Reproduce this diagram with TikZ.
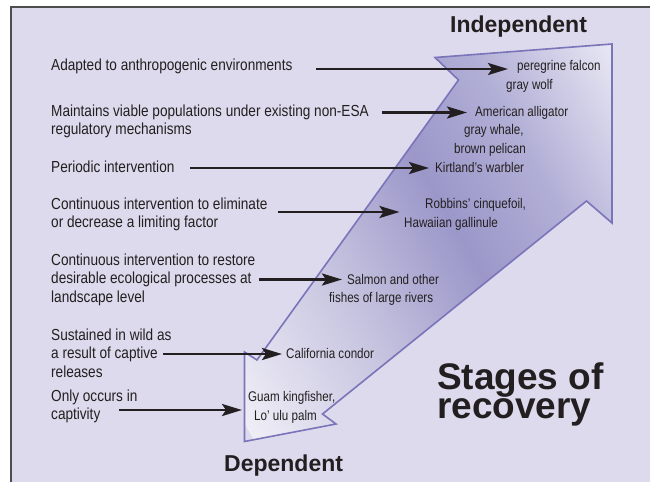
\documentclass[tikz,border=0pt]{standalone}
\usepackage{fontspec}
\setmainfont{Liberation Sans}
\newfontfamily\labfont[FakeStretch=0.85]{Liberation Sans}
\newfontfamily\spfont[FakeStretch=0.83]{Liberation Sans}
\usetikzlibrary{arrows.meta}
\definecolor{bgcol}{HTML}{DCDAEC}
\definecolor{framecol}{HTML}{4D4D4D}
\definecolor{edgecol}{HTML}{7A74B9}
\definecolor{ink}{HTML}{231F20}
\definecolor{sa}{HTML}{EFEEF6}
\definecolor{sb}{HTML}{C7C4E0}
\definecolor{sc}{HTML}{9B97C9}
\definecolor{sd}{HTML}{B1AED6}
\definecolor{se}{HTML}{EEEDF6}
\pgfdeclarehorizontalshading{arrowshade}{100bp}{color(0bp)=(sa); color(25bp)=(sa); color(39.4bp)=(sb); color(51.9bp)=(sc); color(61.5bp)=(sd); color(75bp)=(se); color(100bp)=(se)}
\newcommand\mylines[1]{\begin{tabular}[t]{@{}l@{}}#1\end{tabular}}
\tikzset{
  lab/.style={anchor=base west, inner sep=0pt, text=ink, font={\labfont\fontsize{16}{18.7}\selectfont}},
  sp/.style={anchor=base west, inner sep=0pt, text=ink, font={\spfont\fontsize{14}{19}\selectfont}},
  bigtitle/.style={anchor=base west, inner sep=0pt, text=ink, font={\bfseries\fontsize{23}{27}\selectfont}},
  arr/.style={draw=ink, line width=2.8pt, -{Stealth[length=20pt,width=12pt,inset=4pt]}},
}
\begin{document}
\begin{tikzpicture}[x=1pt,y=-1pt]
\useasboundingbox (0,0) rectangle (650,482);
\fill[white] (0,0) rectangle (650,482);
\fill[bgcol] (10.5,6.5) rectangle (650,482);
\draw[framecol, line width=2pt] (10.5,482) -- (10.5,6.5) -- (650,6.5);

% big arrow
\begin{scope}
  \clip (244.5,441.5) -- (244.5,352) -- (257,360) -- (458.5,80) -- (435,57.5) -- (612,44) -- (612,223) -- (586.5,201) -- (322.5,414) -- (336,424) -- cycle;
  \begin{scope}[transform canvas={rotate=30}]
    \shade[shading=arrowshade] (0,200) rectangle (520,560);
  \end{scope}
\end{scope}
\draw[edgecol, line width=1.6pt, line join=miter] (244.5,441.5) -- (244.5,352) -- (257,360) -- (458.5,80) -- (435,57.5) -- (612,44) -- (612,223) -- (586.5,201) -- (322.5,414) -- (336,424) -- cycle;

% titles
\node[bigtitle] (indep) at (450,32.7) {Independent};
\node[bigtitle] (dep) at (224,471.7) {Dependent};
\node[anchor=base west, inner sep=0pt, text=ink, font={\bfseries\fontsize{37}{29.5}\selectfont}] (stages) at (437,389) {\mylines{Stages of\\recovery}};

% left labels
\node[lab] (L1) at (51,70) {Adapted to anthropogenic environments};
\node[lab] (L2) at (51,116) {\mylines{Maintains viable populations under existing non-ESA\\regulatory mechanisms}};
\node[lab] (L3) at (51,172) {Periodic intervention};
\node[lab] (L4) at (51,209) {\mylines{Continuous intervention to eliminate\\or decrease a limiting factor}};
\node[lab] (L5) at (51,265) {\mylines{Continuous intervention to restore\\desirable ecological processes at\\landscape level}};
\node[lab] (L6) at (51,340) {\mylines{Sustained in wild as\\a result of captive\\releases}};
\node[lab] (L7) at (51,401) {\mylines{Only occurs in\\captivity}};

% species
\node[sp] (S1a) at (517,70) {peregrine falcon};
\node[sp] (S1b) at (506,89) {gray wolf};
\node[sp] (S2a) at (475,116) {American alligator};
\node[sp] (S2b) at (464,134) {gray whale,};
\node[sp] (S2c) at (454,153) {brown pelican};
\node[sp] (S3) at (435,172) {Kirtland’s warbler};
\node[sp] (S4a) at (425,208) {Robbins’ cinquefoil,};
\node[sp] (S4b) at (404,227) {Hawaiian gallinule};
\node[sp] (S5a) at (347,284) {Salmon and other};
\node[sp] (S5b) at (329,302) {fishes of large rivers};
\node[sp] (S6) at (286,358) {California condor};
\node[sp] (S7a) at (248,401) {Guam kingfisher,};
\node[sp] (S7b) at (254,420) {Lo’ ulu palm};

% connectors
\coordinate (a1) at (316,69);    \coordinate (b1) at (508,69);
\coordinate (a2) at (381.5,112.5); \coordinate (b2) at (467,112.5);
\coordinate (a3) at (190,168);   \coordinate (b3) at (429,168);
\coordinate (a4) at (277.5,212); \coordinate (b4) at (399.5,212);
\coordinate (a5) at (259,279.5); \coordinate (b5) at (342,279.5);
\coordinate (a6) at (163,354);   \coordinate (b6) at (282,354);
\coordinate (a7) at (119,410);   \coordinate (b7) at (242,410);
\foreach \i in {1,...,7} { \draw[arr] (a\i) -- (b\i); }
\end{tikzpicture}
\end{document}
